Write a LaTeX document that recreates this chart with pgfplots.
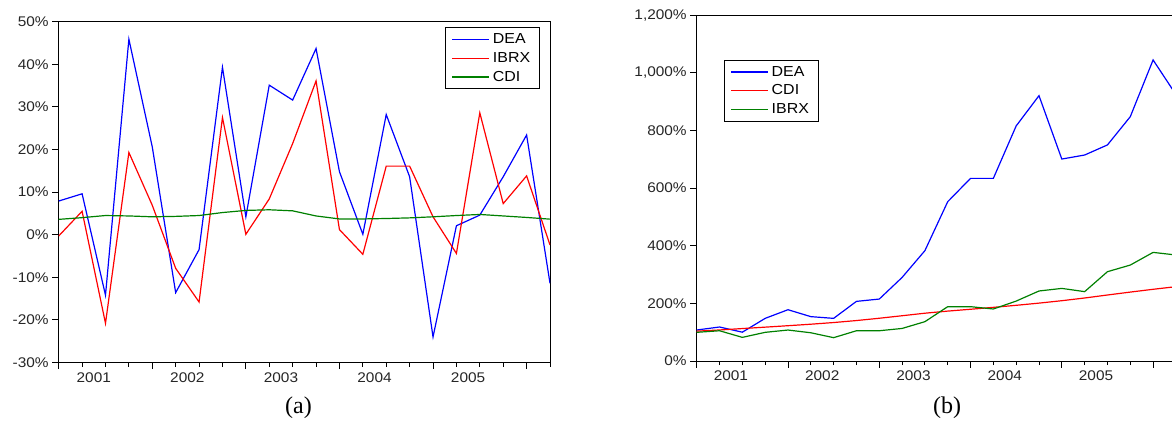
\documentclass[border=0pt]{standalone}
\usepackage{fontspec}
\setmainfont{Liberation Sans}[FakeStretch=1.1]
\newfontfamily\capfont{Liberation Serif}
\usepackage{pgfplots}
\usepackage{pgfplotstable}
\pgfplotsset{compat=1.18}

\definecolor{cblue}{RGB}{0,0,255}
\definecolor{cred}{RGB}{255,0,0}
\definecolor{cgreen}{RGB}{0,128,0}

% quarterly returns (%), 2001Q1 .. 2006Q2
\pgfplotstableread{
q DEA IBRX CDI
0 7.9 -0.3 3.6
1 9.6 5.5 4.0
2 -14.2 -20.8 4.5
3 45.9 19.3 4.4
4 20.6 6.9 4.2
5 -13.6 -7.9 4.3
6 -3.5 -15.8 4.5
7 39.3 27.5 5.2
8 4.2 0.1 5.7
9 35.1 8.4 5.85
10 31.6 21.4 5.6
11 43.7 36.1 4.4
12 14.8 1.2 3.7
13 0.1 -4.6 3.7
14 28.2 16.1 3.8
15 13.6 16.1 3.95
16 -24.0 4.2 4.2
17 2.1 -4.4 4.5
18 4.6 28.6 4.75
19 13.6 7.3 4.4
20 23.4 13.8 4.05
21 -11.4 -2.4 3.65
}\rettable

% cumulative index (%)
\pgfplotstableread{
q DEA CDI IBRX
0 107.6 103.6 99.5
1 118 107.7 105
2 100 112.6 82
3 148 117.5 99.5
4 178 122.5 107.5
5 154 127.7 98
6 148 133.5 81
7 207 140.4 105
8 215 148.4 105
9 290 157.1 113
10 383 165.9 136.5
11 553 173.2 188.6
12 634 179.6 188.6
13 634 186.2 180.5
14 816 193.3 208
15 921 200.9 243
16 701 209.3 252
17 715 218.7 240.7
18 750 229.1 310
19 848 239.2 333
20 1045 248.9 377
21 925 258 368
}\cumtable

\pgfplotsset{
  panel/.style={
    scale only axis, anchor=south west,
    xmin=0, xmax=21,
    axis line style={line width=1bp, black},
    tick align=outside, tick pos=left,
    xtick={0,4,8,12,16,20}, xticklabels={,,,,,},
    minor xtick={1,2,3,5,6,7,9,10,11,13,14,15,17,18,19,21},
    major tick length=6.5bp, minor tick length=4bp,
    tick style={black, line width=0.9bp},
    extra x ticks={1.5,5.5,9.5,13.5,17.5},
    extra x tick labels={2001,2002,2003,2004,2005},
    extra x tick style={tick style={draw=none}},
    tick label style={font=\fontsize{14bp}{16bp}\selectfont, text=black!85},
    legend cell align=left,
    legend style={draw=black, line width=0.8bp, fill=white,
      font=\fontsize{14.5bp}{17bp}\selectfont,
      inner xsep=6bp, inner ysep=2.3bp, row sep=0pt,
      nodes={inner xsep=3bp, inner ysep=2bp, text height=11.5bp, text depth=3.3bp}},
  },
  sblue/.style={draw=cblue, line width=1.2bp,
    legend image code/.code={\draw[draw=cblue, line width=1.3bp] (0bp,0bp) -- (37bp,0bp);}},
  sred/.style={draw=cred, line width=1.2bp,
    legend image code/.code={\draw[draw=cred, line width=1.3bp] (0bp,0bp) -- (37bp,0bp);}},
  sgreen/.style={draw=cgreen, line width=1.2bp,
    legend image code/.code={\draw[draw=cgreen, line width=1.3bp] (0bp,0bp) -- (37bp,0bp);}},
}

\begin{document}
\begin{tikzpicture}
\useasboundingbox (0,0) rectangle (1172bp,423bp);
\clip (0,0) rectangle (1172bp,423bp);

\begin{axis}[panel,
  at={(58.7bp,60.5bp)}, width=491.3bp, height=340.8bp,
  ymin=-30, ymax=50,
  ytick={-30,-20,-10,0,10,20,30,40,50},
  yticklabels={-30\%,-20\%,-10\%,0\%,10\%,20\%,30\%,40\%,50\%},
  legend style={at={(0.9788,0.9836)}, anchor=north east},
]
\addplot[sblue] table[x=q, y=DEA] {\rettable};
\addplot[sred] table[x=q, y=IBRX] {\rettable};
\addplot[sgreen] table[x=q, y=CDI] {\rettable};
\legend{DEA,IBRX,CDI}
\end{axis}

\begin{axis}[panel,
  at={(696.7bp,62bp)}, width=479.2bp, height=345.7bp,
  ymin=0, ymax=1200,
  ytick={0,200,400,600,800,1000,1200},
  yticklabels={0\%,200\%,400\%,600\%,800\%,{1,000\%},{1,200\%}},
  legend style={at={(0.057,0.871)}, anchor=north west},
]
\addplot[sblue] table[x=q, y=DEA] {\cumtable};
\addplot[sred] table[x=q, y=CDI] {\cumtable};
\addplot[sgreen] table[x=q, y=IBRX] {\cumtable};
\legend{DEA,CDI,IBRX}
\end{axis}

\node[font=\capfont\fontsize{24bp}{26bp}\selectfont] at (298.5bp,15bp) {(a)};
\node[font=\capfont\fontsize{24bp}{26bp}\selectfont] at (947bp,15bp) {(b)};
\end{tikzpicture}
\end{document}
